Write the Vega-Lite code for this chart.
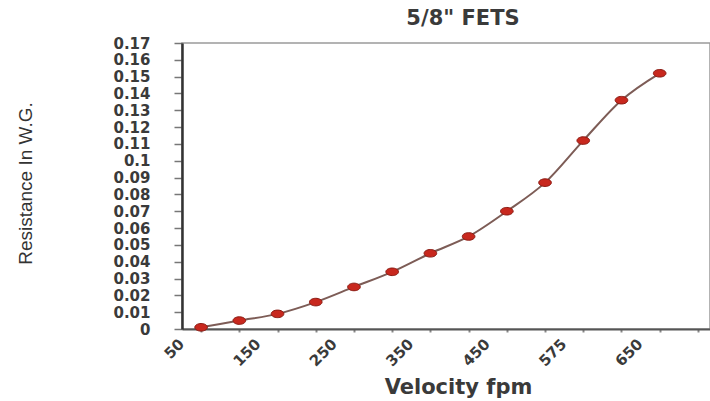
{
  "$schema": "https://vega.github.io/schema/vega-lite/v6.json",
  "autosize": {"type": "none"},
  "padding": {"left": 182, "top": 43, "right": 0, "bottom": 72},
  "width": 528,
  "height": 286,
  "background": "white",
  "config": {"view": {"stroke": "#9a9a9a", "strokeWidth": 1.5}},
  "title": {
    "text": "5/8\" FETS",
    "font": "DejaVu Sans",
    "fontSize": 21,
    "fontWeight": "bold",
    "color": "#3a3a3a",
    "anchor": "middle",
    "dx": 17,
    "baseline": "alphabetic",
    "offset": -10
  },
  "data": {
    "values": [
      {"v": "50", "r": 0.001},
      {"v": "100", "r": 0.005},
      {"v": "150", "r": 0.009},
      {"v": "200", "r": 0.016},
      {"v": "250", "r": 0.025},
      {"v": "300", "r": 0.034},
      {"v": "350", "r": 0.045},
      {"v": "400", "r": 0.055},
      {"v": "450", "r": 0.07},
      {"v": "500", "r": 0.087},
      {"v": "575", "r": 0.112},
      {"v": "600", "r": 0.136},
      {"v": "650", "r": 0.152}
    ]
  },
  "encoding": {
    "x": {
      "field": "v",
      "type": "ordinal",
      "sort": null,
      "scale": {
        "domain": ["50","100","150","200","250","300","350","400","450","500","575","600","650","700"],
        "range": [0, 535],
        "paddingInner": 0,
        "paddingOuter": 0
      },
      "axis": {
        "title": "Velocity fpm",
        "titleFont": "DejaVu Sans",
        "titleFontSize": 21,
        "titleFontWeight": "bold",
        "titleColor": "#3a3a3a",
        "titleX": 276,
        "titleY": 64,
        "titleAlign": "center",
        "titleBaseline": "alphabetic",
        "bandPosition": 0,
        "labelExpr": "indexof(['50','150','250','350','450','575','650'], datum.value) >= 0 ? datum.value : ''",
        "labelAngle": -45,
        "labelAlign": "right",
        "labelBaseline": "middle",
        "labelPadding": 9,
        "labelOffset": -20,
        "labelFont": "DejaVu Sans",
        "labelFontSize": 15,
        "labelFontWeight": "bold",
        "labelColor": "#3a3a3a",
        "tickColor": "#888888",
        "tickSize": 3,
        "tickWidth": 2,
        "domainColor": "#555555",
        "domainWidth": 2,
        "grid": false
      }
    },
    "y": {
      "field": "r",
      "type": "quantitative",
      "scale": {"domain": [0, 0.17], "nice": false},
      "axis": {
        "title": "Resistance In W.G.",
        "titleFont": "Liberation Sans Narrow, Liberation Sans",
        "titleFontSize": 19,
        "titleFontWeight": "normal",
        "titleColor": "#333333",
        "titleAngle": -90,
        "titleX": -157,
        "titleY": 140,
        "titleAlign": "center",
        "titleBaseline": "middle",
        "values": [0,0.01,0.02,0.03,0.04,0.05,0.06,0.07,0.08,0.09,0.1,0.11,0.12,0.13,0.14,0.15,0.16,0.17],
        "labelExpr": "datum.value == 0 ? '0' : format(datum.value, '.2~f')",
        "labelFont": "DejaVu Sans",
        "labelFontSize": 15,
        "labelFontWeight": "bold",
        "labelColor": "#3a3a3a",
        "labelPadding": 24,
        "tickColor": "#777777",
        "tickSize": 8,
        "tickWidth": 1.5,
        "domainColor": "#333333",
        "domainWidth": 2.5,
        "grid": false
      }
    }
  },
  "layer": [
    {
      "mark": {"type": "line", "interpolate": "monotone", "color": "#7d5c56", "strokeWidth": 2}
    },
    {
      "mark": {
        "type": "point",
        "shape": "M-1,0A1,0.6 0 1,0 1,0A1,0.6 0 1,0 -1,0Z",
        "size": 160,
        "filled": true,
        "fill": "#c8281e",
        "stroke": "#8a1a12",
        "strokeWidth": 1,
        "opacity": 1
      }
    }
  ]
}
